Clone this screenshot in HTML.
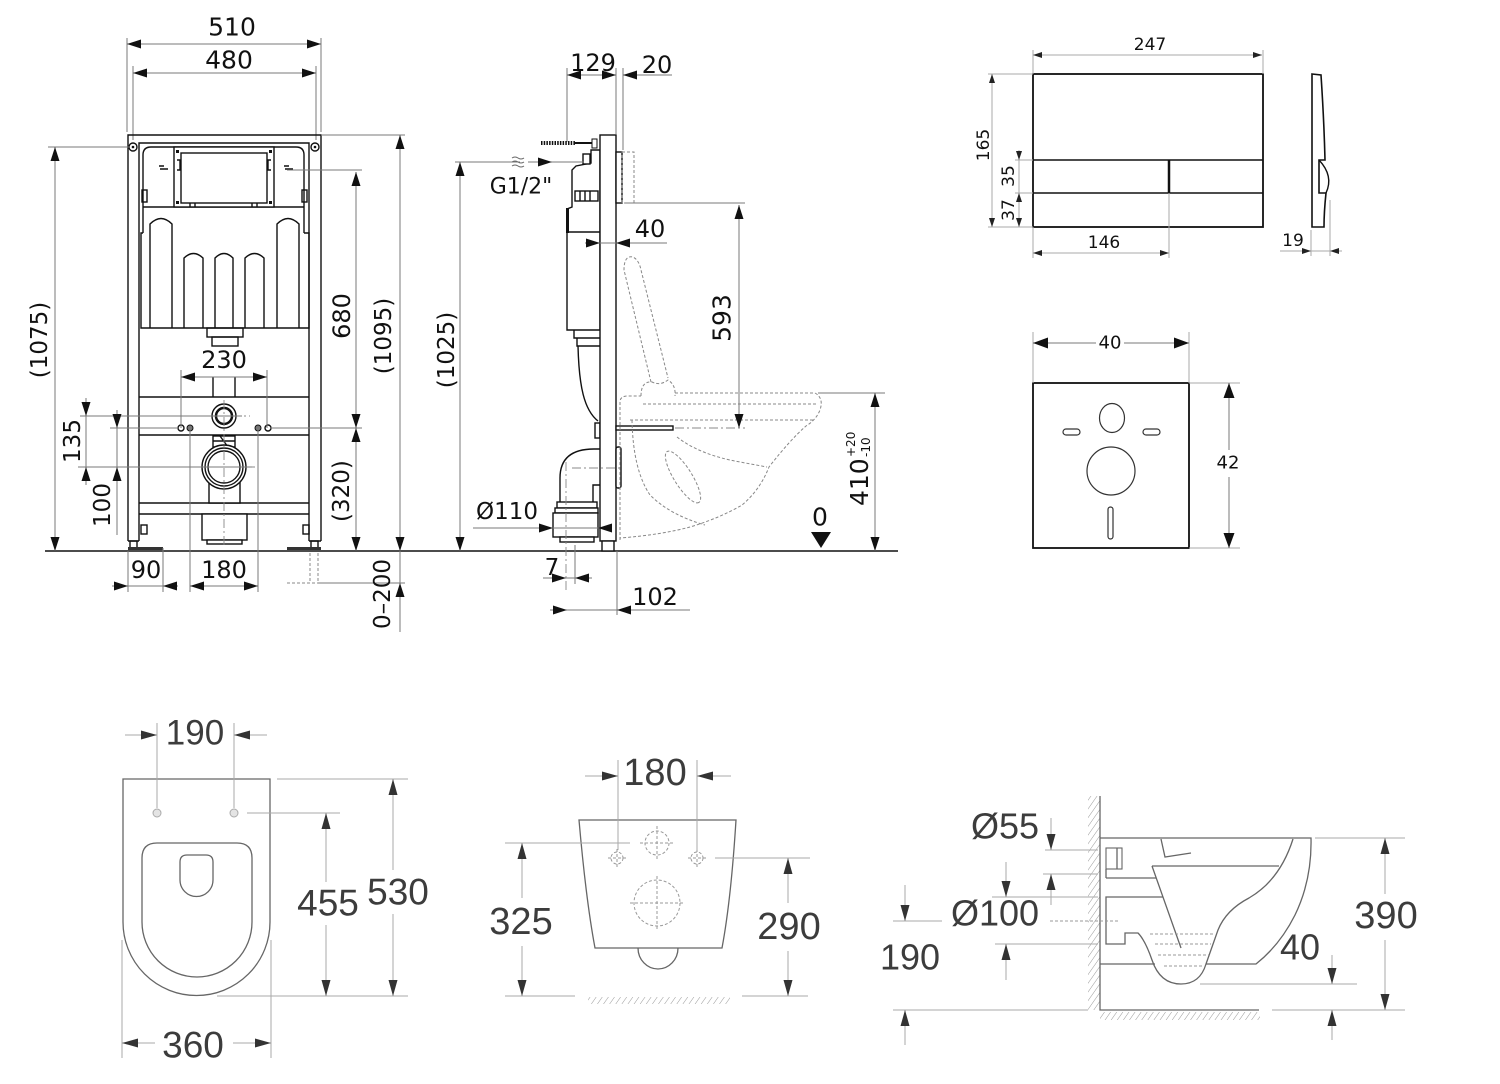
<!DOCTYPE html>
<html><head><meta charset="utf-8"><style>
html,body{margin:0;padding:0;background:#fff;}
svg{display:block}
.t{font-family:"DejaVu Sans","Liberation Sans",sans-serif;fill:#111;text-anchor:middle;dominant-baseline:central}
.b{font-family:"Liberation Sans",Arial,sans-serif;fill:#3c3c3c;text-anchor:middle;dominant-baseline:central}
.k{stroke:#111;stroke-width:1.4;fill:none}
.kw{stroke:#111;stroke-width:1.4;fill:#fff}
.d{stroke:#7a7a7a;stroke-width:1;fill:none}
.g{stroke:#aaa;stroke-width:1;fill:none}
.gb{stroke:#666;stroke-width:1.3;fill:none}
.ds{stroke:#888;stroke-width:1;fill:none;stroke-dasharray:3 2}
.dsb{stroke:#999;stroke-width:1;fill:none;stroke-dasharray:3 2}
.cl{stroke:#888;stroke-width:0.9;fill:none;stroke-dasharray:9 3 2 3}
</style></head><body>
<svg width="1500" height="1084" viewBox="0 0 1500 1084" xmlns="http://www.w3.org/2000/svg">
<defs>
<marker id="A" viewBox="0 0 10 10" refX="10" refY="5" markerUnits="userSpaceOnUse" markerWidth="14" markerHeight="9" preserveAspectRatio="none" orient="auto-start-reverse"><path d="M0,0L10,5L0,10z" fill="#111"/></marker>
<marker id="S" viewBox="0 0 10 10" refX="10" refY="5" markerUnits="userSpaceOnUse" markerWidth="9" markerHeight="6" preserveAspectRatio="none" orient="auto-start-reverse"><path d="M0,0L10,5L0,10z" fill="#222"/></marker>
<marker id="P" viewBox="0 0 10 10" refX="10" refY="5" markerUnits="userSpaceOnUse" markerWidth="15" markerHeight="11" preserveAspectRatio="none" orient="auto-start-reverse"><path d="M0,0L10,5L0,10z" fill="#111"/></marker>
<marker id="B" viewBox="0 0 10 10" refX="10" refY="5" markerUnits="userSpaceOnUse" markerWidth="16" markerHeight="9" preserveAspectRatio="none" orient="auto-start-reverse"><path d="M0,0L10,5L0,10z" fill="#333"/></marker>
<pattern id="h" width="5" height="5" patternUnits="userSpaceOnUse" patternTransform="rotate(35)"><line x1="0" y1="0" x2="0" y2="5" stroke="#999" stroke-width="1"/></pattern>
</defs>

<!-- ================= FRONT VIEW ================= -->
<!-- dims 510 / 480 -->
<path class="d" d="M127,38V132 M321,38V132 M133,66V140 M316,66V140"/>
<line class="d" x1="127" y1="44" x2="321" y2="44" marker-start="url(#A)" marker-end="url(#A)"/>
<line class="d" x1="133" y1="73" x2="316" y2="73" marker-start="url(#A)" marker-end="url(#A)"/>
<text class="t" x="232" y="27" font-size="25">510</text>
<text class="t" x="229" y="60" font-size="25">480</text>

<!-- frame -->
<path class="k" d="M128,541V135H321V541 M139,541V143H309V541 M128,541H139 M309,541H321"/>
<circle class="k" cx="133" cy="147" r="4" stroke-width="1"/><circle cx="133" cy="147" r="1.3" fill="#111"/>
<circle class="k" cx="315" cy="147" r="4" stroke-width="1"/><circle cx="315" cy="147" r="1.3" fill="#111"/>
<rect class="k" x="130" y="541" width="7" height="7" stroke-width="1"/>
<rect class="k" x="311" y="541" width="7" height="7" stroke-width="1"/>
<rect x="128" y="547" width="35" height="3" fill="#333"/>
<rect x="287" y="547" width="34" height="3" fill="#333"/>
<rect class="k" x="141" y="525" width="6" height="9" stroke-width="1"/>
<rect class="k" x="303" y="525" width="6" height="9" stroke-width="1"/>

<!-- cistern -->
<path class="k" d="M143,233V155Q143,147 151,147H296Q304,147 304,155V233"/>
<path class="k" d="M143,207H304 M143,233H141V328H309V233H304"/>
<rect class="kw" x="174" y="147" width="100" height="60"/>
<rect class="k" x="181" y="153" width="86" height="50"/>
<rect x="176" y="150" width="3" height="3" fill="#111"/><rect x="269" y="150" width="3" height="3" fill="#111"/>
<rect x="176" y="201" width="3" height="3" fill="#111"/><rect x="269" y="201" width="3" height="3" fill="#111"/>
<path class="k" stroke-width="1" d="M177,160h3v10h-3 M271,160h-3v10h3 M159,166h5 M160,169h8 M284,166h5 M285,169h8 M190,203v4 M195,203v4 M252,203v4 M257,203v4"/>
<rect class="k" x="142" y="190" width="5" height="12" stroke-width="1"/>
<rect class="k" x="302" y="190" width="5" height="12" stroke-width="1"/>
<path class="k" d="M150,328V224Q161,213 172,224V328 M277,328V224Q288,213 299,224V328 M184,328V258Q193.5,249 203,258V328 M215,328V258Q224,249 233,258V328 M245,328V258Q254.5,249 264,258V328"/>
<rect class="k" x="207" y="328" width="36" height="9"/>
<rect class="k" x="212" y="337" width="26" height="9"/>
<path class="k" stroke-width="1" d="M213,377V397 M235,377V397"/>

<!-- rails -->
<path class="k" d="M139,397H309 M139,435H309 M139,503H309 M139,514H309"/>
<circle class="k" cx="224" cy="416" r="12"/>
<circle cx="224" cy="416" r="8" fill="none" stroke="#111" stroke-width="2.5"/>
<rect class="kw" x="213" y="436" width="22" height="11"/>
<path class="k" stroke-width="1" d="M213,441H235 M220,436L228,447"/>
<path class="kw" d="M209,467V503H240V467"/>
<circle class="kw" cx="224" cy="467" r="22"/>
<circle class="k" cx="224" cy="467" r="19" stroke-width="1"/>
<circle class="k" cx="224" cy="467" r="16" stroke-width="2"/>
<rect class="kw" x="202" y="514" width="45" height="26"/>
<rect class="kw" x="207" y="540" width="35" height="4"/>
<path class="cl" d="M224,400V548 M198,416H250 M195,467H255"/>
<circle class="k" cx="181" cy="428" r="3" stroke-width="1"/>
<circle cx="190" cy="428" r="3" fill="#777" stroke="#111" stroke-width="1"/>
<circle cx="258" cy="428" r="3" fill="#777" stroke="#111" stroke-width="1"/>
<circle class="k" cx="268" cy="428" r="3" stroke-width="1"/>

<!-- floor -->
<path d="M45,551H898" stroke="#111" stroke-width="1.6"/>
<path class="ds" d="M310,553V583 M318,553V583 M287,583H318"/>

<!-- front dims -->
<path class="d" d="M48,147H130 M321,135H405 M287,170H362 M270,428H362 M318,583H405"/>
<line class="d" x1="55" y1="147" x2="55" y2="551" marker-start="url(#A)" marker-end="url(#A)"/>
<text class="t" x="40" y="340" font-size="23" transform="rotate(-90 40 340)">(1075)</text>
<line class="d" x1="400" y1="135" x2="400" y2="551" marker-start="url(#A)" marker-end="url(#A)"/>
<text class="t" x="384" y="336" font-size="23" transform="rotate(-90 384 336)">(1095)</text>
<line class="d" x1="356" y1="172" x2="356" y2="428" marker-start="url(#A)" marker-end="url(#A)"/>
<text class="t" x="342" y="316" font-size="24" transform="rotate(-90 342 316)">680</text>
<line class="d" x1="356" y1="428" x2="356" y2="551" marker-start="url(#A)" marker-end="url(#A)"/>
<text class="t" x="342" y="491" font-size="23" transform="rotate(-90 342 491)">(320)</text>
<line class="d" x1="400" y1="551" x2="400" y2="632"/>
<line class="d" x1="400" y1="600" x2="400" y2="583" marker-end="url(#A)"/>
<text class="t" x="383" y="594" font-size="23" transform="rotate(-90 383 594)">0–200</text>

<path class="d" d="M80,416H242 M110,428H178 M78,467H252"/>
<line class="d" x1="86" y1="398" x2="86" y2="485"/>
<line class="d" x1="86" y1="400" x2="86" y2="416" marker-end="url(#A)"/>
<line class="d" x1="86" y1="484" x2="86" y2="467" marker-end="url(#A)"/>
<text class="t" x="73" y="441" font-size="23" transform="rotate(-90 73 441)">135</text>
<line class="d" x1="117" y1="410" x2="117" y2="535"/>
<line class="d" x1="117" y1="412" x2="117" y2="428" marker-end="url(#A)"/>
<line class="d" x1="117" y1="483" x2="117" y2="467" marker-end="url(#A)"/>
<text class="t" x="103" y="505" font-size="23" transform="rotate(-90 103 505)">100</text>

<path class="d" d="M181,370V428 M267,370V428 M190,428V592 M258,428V592 M128,551V592 M163,548V592"/>
<line class="d" x1="181" y1="377" x2="267" y2="377" marker-start="url(#A)" marker-end="url(#A)"/>
<text class="t" x="224" y="360" font-size="24">230</text>
<line class="d" x1="112" y1="586" x2="178" y2="586"/>
<line class="d" x1="112" y1="586" x2="128" y2="586" marker-end="url(#A)"/>
<line class="d" x1="178" y1="586" x2="163" y2="586" marker-end="url(#A)"/>
<text class="t" x="146" y="570" font-size="24">90</text>
<line class="d" x1="190" y1="586" x2="258" y2="586" marker-start="url(#A)" marker-end="url(#A)"/>
<text class="t" x="224" y="570" font-size="24">180</text>

<!-- ================= SIDE VIEW ================= -->
<path class="d" d="M567,68V142 M616,68V134 M623,68V150"/>
<line class="d" x1="567" y1="75" x2="616" y2="75" marker-start="url(#A)" marker-end="url(#A)"/>
<line class="d" x1="672" y1="75" x2="623" y2="75" marker-end="url(#A)"/>
<text class="t" x="593" y="63" font-size="24">129</text>
<text class="t" x="657" y="65" font-size="24">20</text>

<!-- screw -->
<line x1="541" y1="143" x2="576" y2="143" stroke="#111" stroke-width="4" stroke-dasharray="1.5 1.2"/>
<line x1="574" y1="143" x2="597" y2="143" stroke="#111" stroke-width="2"/>
<rect x="592" y="139" width="5" height="9" fill="#fff" stroke="#111" stroke-width="1"/>
<!-- cistern side -->
<path class="kw" d="M600,150H591V163L576,166L572,170V207L567,209V330H600Z"/>
<path class="k" d="M567,232H600"/>
<rect x="566" y="208" width="3" height="25" fill="#111"/>
<rect class="kw" x="583" y="154" width="7" height="10" stroke-width="1"/>
<rect class="kw" x="575" y="191" width="23" height="10" stroke-width="1"/>
<path class="k" stroke-width="1" d="M580,191V201 M585,191V201 M590,191V201"/>
<path class="k" d="M574,330V338H600 M577,338V346H600 M578,346C579,386 584,410 598,421"/>
<rect class="kw" x="595" y="423" width="5" height="15" stroke-width="1"/>
<!-- elbow -->
<path class="k" d="M560,502V478Q560,449 594,449H600 M593,502V485H600"/>
<rect class="kw" x="557" y="502" width="40" height="6"/>
<rect class="kw" x="555" y="508" width="43" height="5"/>
<rect class="kw" x="553" y="513" width="45" height="24"/>
<rect class="kw" x="560" y="537" width="34" height="5"/>
<!-- plate -->
<rect class="kw" x="600" y="135" width="16" height="406"/>
<rect class="kw" x="602" y="541" width="12" height="10"/>
<rect class="kw" x="616" y="152" width="6" height="51" stroke-width="1"/>
<rect class="ds" x="622" y="152" width="12" height="51"/>
<rect class="kw" x="616" y="447" width="5" height="41" rx="2" stroke-width="1"/>
<rect class="kw" x="616" y="426" width="57" height="4" stroke-width="1"/>
<path class="cl" d="M566,462V592 M572,468H622"/>

<!-- bowl dashed -->
<path class="ds" d="M651,382L624,270Q624,255 633,257Q639,260 641,270L668,378"/>
<path class="ds" d="M641,396Q641,381 652,382Q660,386 668,380Q676,385 675,396"/>
<path class="ds" d="M620,540V402Q620,396 628,396H641 M675,393H815Q824,398 820,410Q816,420 806,426Q790,440 769,467Q760,490 742,505Q720,518 690,527Q660,535 620,538"/>
<path class="ds" d="M643,404H817 M630,420H813"/>
<path class="ds" d="M632,420Q633,470 650,495Q670,515 705,525"/>
<path class="ds" d="M677,437Q700,455 740,462L767,467"/>
<ellipse class="ds" cx="683" cy="477" rx="30" ry="9" transform="rotate(58 683 477)"/>

<!-- side dims -->
<path class="d" d="M455,162H520 M552,162H584"/>
<path d="M512,158q3,-2 6,0t6,0 M512,162q3,-2 6,0t6,0 M512,166q3,-2 6,0t6,0" stroke="#666" stroke-width="1" fill="none"/>
<line class="d" x1="528" y1="162" x2="552" y2="162" marker-end="url(#A)"/>
<text class="t" x="521" y="187" font-size="22">G1/2"</text>
<line class="d" x1="460" y1="162" x2="460" y2="551" marker-start="url(#A)" marker-end="url(#A)"/>
<text class="t" x="447" y="350" font-size="23" transform="rotate(-90 447 350)">(1025)</text>
<line class="d" x1="585" y1="243" x2="667" y2="243"/>
<line class="d" x1="585" y1="243" x2="600" y2="243" marker-end="url(#A)"/>
<line class="d" x1="632" y1="243" x2="616" y2="243" marker-end="url(#A)"/>
<text class="t" x="650" y="229" font-size="24">40</text>
<path class="d" d="M625,203H745"/>
<path class="cl" d="M675,428H745"/>
<line class="d" x1="739" y1="205" x2="739" y2="428" marker-start="url(#A)" marker-end="url(#A)"/>
<text class="t" x="722" y="318" font-size="25" transform="rotate(-90 722 318)">593</text>
<path class="d" d="M818,393H885"/>
<line class="d" x1="875" y1="393" x2="875" y2="551" marker-start="url(#A)" marker-end="url(#A)"/>
<g transform="translate(868,506) rotate(-90)">
<text x="0" y="0" font-family="DejaVu Sans, Liberation Sans, sans-serif" font-size="25" fill="#111">410</text>
<text x="49" y="-13" font-family="DejaVu Sans, Liberation Sans, sans-serif" font-size="12" fill="#111">+20</text>
<text x="49" y="2" font-family="DejaVu Sans, Liberation Sans, sans-serif" font-size="12" fill="#111">-10</text>
</g>
<text class="t" x="820" y="517" font-size="25">0</text>
<polygon points="811,532 831,532 821,548" fill="#111"/>
<line class="d" x1="473" y1="528" x2="610" y2="528"/>
<line class="d" x1="538" y1="528" x2="553" y2="528" marker-end="url(#A)"/>
<line class="d" x1="612" y1="528" x2="598" y2="528" marker-end="url(#A)"/>
<text class="t" x="507" y="512" font-size="23">Ø110</text>
<line class="d" x1="543" y1="578" x2="592" y2="578"/>
<line class="d" x1="550" y1="578" x2="566" y2="578" marker-end="url(#A)"/>
<line class="d" x1="590" y1="578" x2="575" y2="578" marker-end="url(#A)"/>
<path class="d" d="M575,545V584 M617,551V615"/>
<text class="t" x="552" y="568" font-size="23">7</text>
<line class="d" x1="550" y1="610" x2="690" y2="610"/>
<line class="d" x1="552" y1="610" x2="567" y2="610" marker-end="url(#A)"/>
<line class="d" x1="633" y1="610" x2="617" y2="610" marker-end="url(#A)"/>
<text class="t" x="655" y="597" font-size="24">102</text>

<!-- ================= FLUSH PLATE ================= -->
<rect x="1033" y="74" width="230" height="153" fill="none" stroke="#111" stroke-width="1.8"/>
<path d="M1033,160H1263 M1033,193H1263" stroke="#111" stroke-width="1.6"/>
<path d="M1169,160V193" stroke="#111" stroke-width="2.5"/>
<path class="g" d="M1033,50V74 M1263,50V74 M988,74H1033 M988,227H1033 M1015,160H1033 M1015,193H1033 M1169,193V258 M1033,227V258"/>
<line class="g" x1="1033" y1="55" x2="1262" y2="55" marker-start="url(#S)" marker-end="url(#S)"/>
<text class="t" x="1150" y="45" font-size="17">247</text>
<line class="g" x1="992" y1="74" x2="992" y2="227" marker-start="url(#S)" marker-end="url(#S)"/>
<text class="t" x="984" y="145" font-size="17" transform="rotate(-90 984 145)">165</text>
<line class="g" x1="1019" y1="150" x2="1019" y2="227"/>
<line class="g" x1="1019" y1="150" x2="1019" y2="160" marker-end="url(#S)"/>
<line class="g" x1="1019" y1="205" x2="1019" y2="193" marker-end="url(#S)"/>
<line class="g" x1="1019" y1="215" x2="1019" y2="227" marker-end="url(#S)"/>
<text class="t" x="1009" y="176" font-size="17" transform="rotate(-90 1009 176)">35</text>
<text class="t" x="1009" y="210" font-size="17" transform="rotate(-90 1009 210)">37</text>
<line class="g" x1="1033" y1="253" x2="1169" y2="253" marker-start="url(#S)" marker-end="url(#S)"/>
<text class="t" x="1104" y="243" font-size="17">146</text>
<path d="M1312,74L1321,75Q1324,120 1325,160L1319,160L1319,193L1326,193Q1324,212 1324,227L1312,227Z" fill="#fff" stroke="#111" stroke-width="1.6"/>
<path d="M1319,160Q1334,176 1326,193" fill="none" stroke="#111" stroke-width="1.4"/>
<path class="g" d="M1311,230V256 M1330,200V256"/>
<line class="g" x1="1280" y1="251" x2="1342" y2="251"/>
<line class="g" x1="1296" y1="251" x2="1311" y2="251" marker-end="url(#S)"/>
<line class="g" x1="1342" y1="251" x2="1330" y2="251" marker-end="url(#S)"/>
<text class="t" x="1293" y="241" font-size="17">19</text>

<!-- ================= MOUNTING PAD ================= -->
<rect x="1033" y="383" width="156" height="165" fill="none" stroke="#111" stroke-width="1.8"/>
<path class="g" d="M1033,332V383 M1189,332V383 M1189,383H1240 M1189,548H1240"/>
<line class="d" x1="1033" y1="343" x2="1096" y2="343" marker-start="url(#P)"/>
<line class="d" x1="1124" y1="343" x2="1189" y2="343" marker-end="url(#P)"/>
<text class="t" x="1110" y="343" font-size="18">40</text>
<line class="d" x1="1229" y1="383" x2="1229" y2="450" marker-start="url(#P)"/>
<line class="d" x1="1229" y1="477" x2="1229" y2="548" marker-end="url(#P)"/>
<text class="t" x="1228" y="463" font-size="18">42</text>
<ellipse cx="1112" cy="418" rx="12.5" ry="14.5" fill="none" stroke="#333" stroke-width="1.2"/>
<rect x="1063" y="429" width="17" height="6" rx="3" fill="none" stroke="#333" stroke-width="1.2"/>
<rect x="1143" y="429" width="17" height="6" rx="3" fill="none" stroke="#333" stroke-width="1.2"/>
<circle cx="1111" cy="471" r="24" fill="none" stroke="#333" stroke-width="1.2"/>
<rect x="1108" y="507" width="5" height="32" rx="2.5" fill="none" stroke="#333" stroke-width="1.2"/>

<!-- ================= BOTTOM LEFT (top view) ================= -->
<path class="gb" d="M123,779H270V922A73.5,73.5 0 0 1 123,922Z"/>
<path class="gb" stroke-width="1" d="M142,858Q142,843 157,843H237Q252,843 252,858V922A55,55 0 0 1 142,922Z"/>
<path class="gb" stroke-width="1" d="M180,862Q180,855 187,855H206Q213,855 213,862V880A16.5,16.5 0 0 1 180,880Z"/>
<circle cx="157" cy="813" r="4" fill="#e4e4e4" stroke="#aaa"/>
<circle cx="234" cy="813" r="4" fill="#e4e4e4" stroke="#aaa"/>
<path class="g" d="M157,723V808 M234,723V808 M277,779H408 M247,813H340 M217,996H408 M122,940V1058 M271,940V1058"/>
<line class="g" x1="125" y1="735" x2="157" y2="735" marker-end="url(#B)"/>
<line class="g" x1="267" y1="735" x2="234" y2="735" marker-end="url(#B)"/>
<text class="b" x="195" y="733" font-size="35">190</text>
<line class="g" x1="393" y1="779" x2="393" y2="870" marker-start="url(#B)"/>
<line class="g" x1="393" y1="914" x2="393" y2="996" marker-end="url(#B)"/>
<text class="b" x="398" y="892" font-size="37">530</text>
<line class="g" x1="326" y1="813" x2="326" y2="882" marker-start="url(#B)"/>
<line class="g" x1="326" y1="925" x2="326" y2="996" marker-end="url(#B)"/>
<text class="b" x="328" y="903" font-size="37">455</text>
<line class="g" x1="122" y1="1043" x2="155" y2="1043" marker-start="url(#B)"/>
<line class="g" x1="233" y1="1043" x2="271" y2="1043" marker-end="url(#B)"/>
<text class="b" x="193" y="1045" font-size="37">360</text>

<!-- ================= BOTTOM MIDDLE (front) ================= -->
<path class="gb" d="M579,820H736Q731,900 722,948H595Q586,900 579,820Z"/>
<path class="gb" d="M638,948A20,21 0 0 0 678,948"/>
<circle class="dsb" cx="657" cy="843" r="12"/>
<circle class="dsb" cx="617" cy="858" r="6"/>
<circle class="dsb" cx="697" cy="858" r="6"/>
<circle class="dsb" cx="657" cy="903" r="23"/>
<path class="dsb" d="M657,826V860 M640,843H674 M608,858H626 M617,849V867 M688,858H706 M697,849V867 M657,876V930 M630,903H684"/>
<path class="g" d="M618,760V850 M697,760V850 M505,843H630 M715,858H810 M505,996H575 M742,996H808"/>
<rect x="588" y="997" width="142" height="7" fill="url(#h)"/>
<line class="g" x1="585" y1="776" x2="618" y2="776" marker-end="url(#B)"/>
<line class="g" x1="731" y1="776" x2="697" y2="776" marker-end="url(#B)"/>
<text class="b" x="655" y="773" font-size="38">180</text>
<line class="g" x1="522" y1="843" x2="522" y2="898" marker-start="url(#B)"/>
<line class="g" x1="522" y1="946" x2="522" y2="996" marker-end="url(#B)"/>
<text class="b" x="521" y="922" font-size="38">325</text>
<line class="g" x1="788" y1="858" x2="788" y2="903" marker-start="url(#B)"/>
<line class="g" x1="788" y1="951" x2="788" y2="996" marker-end="url(#B)"/>
<text class="b" x="789" y="927" font-size="38">290</text>

<!-- ================= BOTTOM RIGHT (section) ================= -->
<rect x="1088" y="796" width="12" height="214" fill="url(#h)"/>
<rect x="1100" y="1012" width="160" height="8" fill="url(#h)"/>
<path class="gb" d="M1100,796V1010H1259"/>
<path class="gb" d="M1100,838H1311Q1312,880 1295,915Q1280,945 1256,964H1206 M1155,964H1100"/>
<path class="gb" stroke-width="1.1" d="M1293,839Q1280,880 1249,898Q1226,910 1218,930L1206,964Q1200,984 1181,984Q1160,984 1152,960Q1145,940 1138,933H1125V944H1106V897H1163 M1106,878H1156 M1106,869V878"/>
<path class="gb" stroke-width="1.1" d="M1152,866H1279 M1152,866L1181,948 M1161,839L1165,857L1191,853"/>
<rect x="1106" y="848" width="16" height="21" fill="none" stroke="#666" stroke-width="1.1"/>
<path class="gb" stroke-width="1" d="M1117,848V869"/>
<path class="dsb" d="M1150,934H1214 M1155,944H1211 M1158,955H1209 M1164,966H1203"/>
<path class="g" d="M1315,838H1405 M1272,1010H1405 M1200,984H1357 M1045,850H1098 M1043,874H1098 M992,897H1098 M995,944H1098 M893,921H942 M893,1010H1088"/>
<path class="dsb" d="M1050,921H1120"/>
<line class="g" x1="1385" y1="838" x2="1385" y2="894" marker-start="url(#B)"/>
<line class="g" x1="1385" y1="940" x2="1385" y2="1010" marker-end="url(#B)"/>
<text class="b" x="1386" y="916" font-size="38">390</text>
<line class="g" x1="1332" y1="955" x2="1332" y2="984" marker-end="url(#B)"/>
<line class="g" x1="1332" y1="1040" x2="1332" y2="1010" marker-end="url(#B)"/>
<text class="b" x="1300" y="947" font-size="36">40</text>
<line class="g" x1="1051" y1="818" x2="1051" y2="850" marker-end="url(#B)"/>
<line class="g" x1="1051" y1="905" x2="1051" y2="874" marker-end="url(#B)"/>
<text class="b" x="1005" y="826" font-size="36">Ø55</text>
<line class="g" x1="1006" y1="862" x2="1006" y2="897" marker-end="url(#B)"/>
<line class="g" x1="1006" y1="980" x2="1006" y2="944" marker-end="url(#B)"/>
<text class="b" x="995" y="913" font-size="36">Ø100</text>
<line class="g" x1="905" y1="885" x2="905" y2="921" marker-end="url(#B)"/>
<line class="g" x1="905" y1="1045" x2="905" y2="1010" marker-end="url(#B)"/>
<text class="b" x="910" y="957" font-size="36">190</text>
</svg>
</body></html>
